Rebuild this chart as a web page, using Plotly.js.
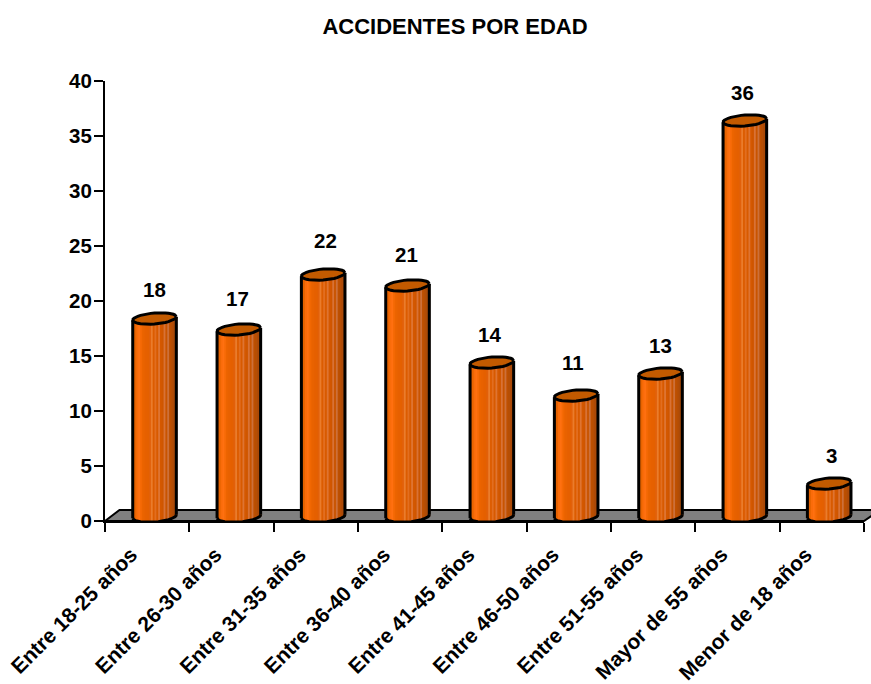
<!DOCTYPE html>
<html><head><meta charset="utf-8">
<script src="https://cdn.plot.ly/plotly-3.0.1.min.js"></script>
<style>html,body{margin:0;padding:0;background:#fff}</style></head>
<body><div id="chart" style="width:871px;height:684px"></div>
<script>
const titleText = "ACCIDENTES POR EDAD";
const categories = ["Entre 18-25 años","Entre 26-30 años","Entre 31-35 años","Entre 36-40 años","Entre 41-45 años","Entre 46-50 años","Entre 51-55 años","Mayor de 55 años","Menor de 18 años"];
const values = [18,17,22,21,14,11,13,36,3];
const yTicks = [0,5,10,15,20,25,30,35,40];
const labelShiftX = [0,-1,2,-1,-2,-3,0,-2,2];
const labelShiftY = [29,31,34,31,28,33,28,28,28];
const stripeColors = ["#DE5E00","#E86400","#FA6C0A","#FF7010","#F66A06","#EC6400","#E86200","#E66000","#E46000","#E2600A","#EA7C2C","#DC5C00","#E26E20","#D85A00","#DE7432","#D45800","#CF5600","#D87236","#C95400","#CC703A","#BE5000","#B64E04","#AC4A08","#A0480A"];

const font = "Liberation Sans, Arial, sans-serif";
const plotW = 759, plotH = 440, marginL = 105, marginT = 81;
const pxX = plotW / categories.length, pxY = plotH / 40;
const halfW = 21.8 / pxX, ellB = 5.5 / pxY, ellK = 1.7 / pxY;
const shiftX = 7.35 / pxX, shiftY = 4.5 / pxY;
const steps = [...Array(37).keys()].map(i => i * 2 * Math.PI / 36);

function ellipse(cx, cy, from, to) {
  const xs = [], ys = [];
  steps.forEach(t => { if (t >= from - 1e-6 && t <= to + 1e-6) {
    xs.push(cx + halfW * Math.cos(t));
    ys.push(cy + ellB * Math.sin(t) + ellK * Math.cos(t));
  }});
  return [xs, ys];
}

const traces = [];
// carries the category axis
traces.push({type:"bar", x:categories, y:values, marker:{color:"rgba(0,0,0,0)"}, hoverinfo:"skip", showlegend:false});

const n = stripeColors.length;
stripeColors.forEach((c, i) => {
  const left = -halfW + i * 2 * halfW / n;
  const w = 2 * halfW / n;
  const u = (left + w / 2) / halfW;
  const base = -ellB * Math.sqrt(Math.max(0, 1 - u * u)) + ellK * u;
  traces.push({type:"bar", xaxis:"x2", yaxis:"y2",
    x: values.map((_, k) => k), y: values.map(v => v - base),
    base: values.map(() => base),
    offset: left, width: w * 1.5,
    marker:{color:c, line:{width:0}}, hoverinfo:"skip", showlegend:false});
});

const topX = [], topY = [], lineX = [], lineY = [];
values.forEach((v, k) => {
  const [tx, ty] = ellipse(k, v, 0, 2 * Math.PI);
  topX.push(...tx, null); topY.push(...ty, null);
  const [bx, by] = ellipse(k, 0, Math.PI, 2 * Math.PI);
  lineX.push(...tx, null, ...bx, null, k - halfW, k - halfW, null, k + halfW, k + halfW, null);
  lineY.push(...ty, null, ...by, null, -ellK, v - ellK, null, ellK, v + ellK, null);
});
traces.push({type:"scatter", mode:"lines", xaxis:"x2", yaxis:"y2", x:topX, y:topY, fill:"toself", fillcolor:"#C25A00", line:{width:0}, hoverinfo:"skip", showlegend:false});
traces.push({type:"scatter", mode:"lines", xaxis:"x2", yaxis:"y2", x:lineX, y:lineY, line:{color:"#000", width:3}, hoverinfo:"skip", showlegend:false});

const px = x => (x - marginL) / plotW, py = y => (marginT + plotH - y) / plotH;
const floorPath = [[105,521],[119.5,510],[880,510],[864,521]];

const layout = {
  width:871, height:684, paper_bgcolor:"#fff", plot_bgcolor:"rgba(0,0,0,0)",
  margin:{l:marginL, r:871 - marginL - plotW, t:marginT, b:684 - marginT - plotH, pad:0},
  barmode:"overlay", showlegend:false,
  title:{text:titleText, x:455/871, xanchor:"center", y:1-26/684, yanchor:"middle", font:{family:font, size:22, color:"#000", weight:700}},
  xaxis:{type:"category", tickson:"boundaries", ticks:"outside", ticklen:9, tickwidth:2, tickcolor:"#000",
    showline:true, linecolor:"#000", linewidth:2, showgrid:false, zeroline:false, tickangle:-45,
    ticklabelshift:-16, ticklabelstandoff:11,
    tickfont:{family:font, size:21, color:"#000", weight:700}, automargin:false},
  yaxis:{range:[0,40], tickmode:"array", tickvals:yTicks, ticks:"outside", ticklen:9, tickwidth:2, tickcolor:"#000",
    showline:true, linecolor:"#000", linewidth:2, showgrid:false, zeroline:false, ticklabelstandoff:-2,
    tickfont:{family:font, size:20.5, color:"#000", weight:700}, automargin:false},
  xaxis2:{overlaying:"x", type:"linear", range:[-0.5 - shiftX, categories.length - 0.5 - shiftX], visible:false, fixedrange:true},
  yaxis2:{overlaying:"y", type:"linear", range:[-shiftY, 40 - shiftY], visible:false, fixedrange:true},
  shapes:[{type:"path", layer:"below", xref:"paper", yref:"paper",
    path: floorPath.map((p,i) => (i ? "L" : "M") + px(p[0]) + "," + py(p[1])).join(" ") + " Z",
    fillcolor:"#808080", line:{color:"#000", width:2}}],
  annotations: values.map((v, k) => ({xref:"x2", yref:"y2", x:k, y:v, xshift:labelShiftX[k], yshift:labelShiftY[k], text:String(v), showarrow:false,
    font:{family:font, size:20.5, color:"#000", weight:700}}))
};
Plotly.newPlot("chart", traces, layout, {displayModeBar:false});
</script></body></html>
